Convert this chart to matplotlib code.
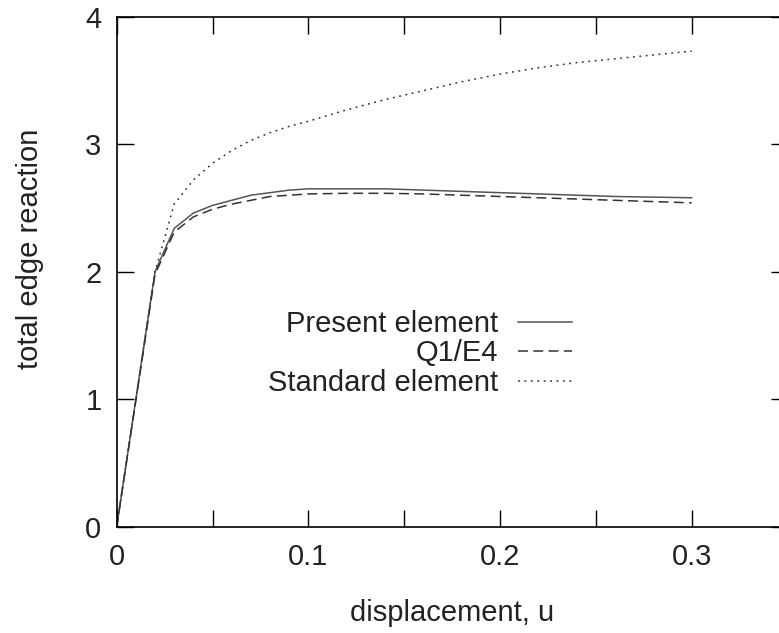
"""edge reaction vs displacement"""
import matplotlib
matplotlib.use('Agg')
import matplotlib.pyplot as plt
from matplotlib.ticker import MultipleLocator

plt.rcParams['font.family'] = ['Liberation Sans', 'DejaVu Sans']

# displacement values (same for all three runs)
u = [0.0, 0.02, 0.03, 0.04, 0.05, 0.06, 0.07, 0.08, 0.09, 0.10,
     0.12, 0.14, 0.16, 0.18, 0.20, 0.22, 0.24, 0.26, 0.28, 0.30]

present = [0.0, 2.0, 2.34, 2.46, 2.52, 2.56, 2.60, 2.62, 2.64, 2.65,
           2.65, 2.65, 2.64, 2.63, 2.62, 2.61, 2.60, 2.59, 2.585, 2.58]
q1e4 = [0.0, 1.98, 2.31, 2.43, 2.49, 2.53, 2.56, 2.59, 2.60, 2.61,
        2.615, 2.615, 2.61, 2.60, 2.59, 2.58, 2.57, 2.56, 2.55, 2.54]
standard = [0.0, 2.0, 2.53, 2.72, 2.85, 2.95, 3.03, 3.09, 3.14, 3.18,
            3.27, 3.35, 3.42, 3.49, 3.55, 3.60, 3.64, 3.67, 3.70, 3.73]

labels = ['Present element', 'Q1/E4', 'Standard element']
xticks = [0, 0.1, 0.2, 0.3]
yticks = [0, 1, 2, 3, 4]

FS = 21
TXT = '#222222'

fig = plt.figure(figsize=(7.79, 6.33), dpi=100)
# the right border lies just outside the picture, as in the original
ax = fig.add_axes([0.1498, 0.1679, 0.8612, 0.8057])

ax.plot(u, present, color='#555555', linewidth=1.1, label=labels[0])
ax.plot(u, q1e4, color='#333333', linewidth=1.1, dashes=(6.5, 3.5), label=labels[1])
ax.plot(u, standard, color='#333333', linewidth=1.1, dashes=(1.2, 3.0), label=labels[2])

ax.set_xlim(0, 0.35)
ax.set_ylim(0, 4)
ax.set_xticks(xticks, ['0' if t == 0 else '%g' % t for t in xticks])
ax.xaxis.set_minor_locator(MultipleLocator(0.05))
ax.set_yticks(yticks, [str(t) for t in yticks])

ax.tick_params(which='both', direction='in', length=12, width=1.0,
               top=True, right=True, labelsize=FS, labelcolor=TXT)
ax.tick_params(axis='x', which='major', pad=12)
ax.tick_params(axis='y', which='major', pad=11)
for spine in ax.spines.values():
    spine.set_linewidth(1.2)

ax.set_xlabel('displacement, u', fontsize=FS, labelpad=20, color=TXT)
ax.set_ylabel('total edge reaction', fontsize=FS, color=TXT)
ax.yaxis.set_label_coords(-0.108, 0.545)

ax.legend(loc='upper right', bbox_to_anchor=(572 / 779, (633 - 310) / 633),
          bbox_transform=fig.transFigure, frameon=False, markerfirst=False,
          fontsize=FS, handlelength=1.85, handletextpad=0.69, labelspacing=0.05,
          borderpad=0, borderaxespad=0, labelcolor=TXT)

plt.savefig('out.png', dpi=100)
